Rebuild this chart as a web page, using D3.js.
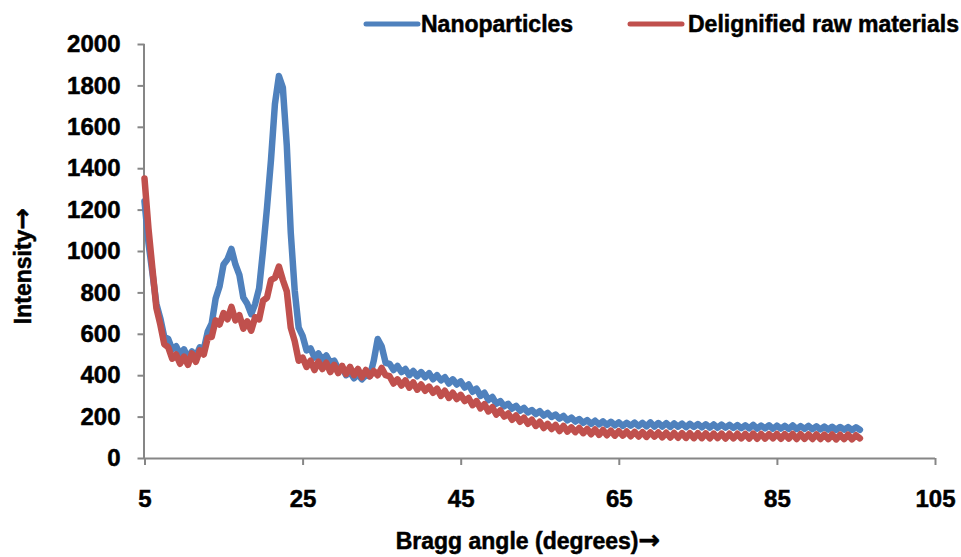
<!DOCTYPE html>
<html>
<head>
<meta charset="utf-8">
<script src="https://cdn.jsdelivr.net/npm/d3@7"></script>
<style>
  html, body { margin: 0; padding: 0; background: #fff; }
  svg { display: block; }
  text { font-family: "Liberation Sans", Arial, sans-serif; font-weight: bold; fill: #000; stroke: #000; stroke-width: 0.5px; }
</style>
</head>
<body>
<svg id="chart" width="961" height="557"></svg>
<script>
// ---- data ----
const angles = [
  5,5.5,6,6.5,7,7.5,8,8.5,9,9.5,
  10,10.5,11,11.5,12,12.5,13,13.5,14,14.5,
  15,15.5,16,16.5,17,17.5,18,18.5,19,19.5,
  20,20.5,21,21.5,22,22.5,23,23.5,24,24.5,
  25,25.5,26,26.5,27,27.5,28,28.5,29,29.5,
  30,30.5,31,31.5,32,32.5,33,33.5,34,34.5,
  35,35.5,36,36.5,37,37.5,38,38.5,39,39.5,
  40,40.5,41,41.5,42,42.5,43,43.5,44,44.5,
  45,45.5,46,46.5,47,47.5,48,48.5,49,49.5,
  50,50.5,51,51.5,52,52.5,53,53.5,54,54.5,
  55,55.5,56,56.5,57,57.5,58,58.5,59,59.5,
  60,60.5,61,61.5,62,62.5,63,63.5,64,64.5,
  65,65.5,66,66.5,67,67.5,68,68.5,69,69.5,
  70,70.5,71,71.5,72,72.5,73,73.5,74,74.5,
  75,75.5,76,76.5,77,77.5,78,78.5,79,79.5,
  80,80.5,81,81.5,82,82.5,83,83.5,84,84.5,
  85,85.5,86,86.5,87,87.5,88,88.5,89,89.5,
  90,90.5,91,91.5,92,92.5,93,93.5,94,94.5,
  95,95.5
];

const nanoparticles = [
  1240,1040,895,745,675,585,575,525,540,500,
  525,485,515,490,535,525,610,650,770,830,
  935,960,1010,935,885,775,745,695,745,820,
  1005,1210,1440,1710,1845,1790,1510,1090,810,630,
  590,520,530,485,505,475,495,460,470,430,
  435,400,415,385,405,380,400,395,470,575,
  540,460,455,425,445,415,430,400,420,395,
  415,390,410,380,400,375,390,360,380,355,
  370,340,355,320,335,300,315,280,295,262,
  275,250,262,238,252,228,242,220,232,212,
  226,205,218,198,210,190,203,182,195,176,
  188,170,183,165,180,162,177,160,175,158,
  172,155,170,156,171,154,170,153,172,152,
  169,152,168,150,167,151,166,149,165,150,
  164,148,163,147,162,146,161,147,160,145,
  159,144,158,143,160,142,157,143,158,141,
  156,142,155,141,157,140,154,141,155,139,
  153,138,152,137,151,136,150,137,149,135,
  148,136
];

const delignified = [
  1350,1110,915,725,645,550,535,480,500,455,
  490,450,505,465,520,500,580,585,665,645,
  700,670,730,665,690,625,660,615,680,670,
  760,775,860,870,925,860,805,630,565,470,
  485,440,470,425,465,430,460,415,450,410,
  445,405,440,400,430,390,425,395,420,400,
  435,400,395,360,380,350,375,340,365,330,
  355,325,345,315,335,300,325,290,315,285,
  305,275,290,255,275,240,260,225,245,210,
  230,200,215,185,205,175,195,165,185,155,
  175,145,165,140,160,130,155,128,148,125,
  145,120,140,115,138,112,135,110,132,108,
  130,108,128,105,126,104,125,102,124,103,
  123,100,122,99,121,98,120,97,120,96,
  120,96,119,95,118,96,118,94,117,95,
  117,95,116,94,118,93,116,94,115,95,
  116,93,115,94,116,92,115,93,114,92,
  114,92,113,91,114,90,112,91,113,90,
  110,95
];

const seriesNames = ["Nanoparticles", "Delignified raw materials"];
const seriesColors = ["#4F81BD", "#C0504D"];
const xTicks = [5, 25, 45, 65, 85, 105];
const yTicks = [0, 200, 400, 600, 800, 1000, 1200, 1400, 1600, 1800, 2000];
const xTitle = "Bragg angle (degrees)";
const yTitle = "Intensity";
const arrow = "\u2192";

// ---- chart ----
const svg = d3.select("#chart");
const x = d3.scaleLinear().domain([5, 105]).range([144.5, 935]);
const y = d3.scaleLinear().domain([0, 2000]).range([458, 44]);

const axisColor = "#868686";

// y axis
const gy = svg.append("g").attr("transform", `translate(${x(5)},0)`)
  .call(d3.axisLeft(y).tickValues(yTicks).tickSize(7).tickPadding(17).tickFormat(d3.format("d")));
// x axis
const gx = svg.append("g").attr("transform", `translate(0,${y(0)})`)
  .call(d3.axisBottom(x).tickValues(xTicks).tickSize(7).tickPadding(25).tickFormat(d3.format("d")));

[gx, gy].forEach(g => {
  g.select(".domain").attr("stroke", axisColor).attr("stroke-width", 2);
  g.selectAll(".tick line").attr("stroke", axisColor).attr("stroke-width", 2);
  g.selectAll(".tick text").attr("font-size", 24).attr("fill", "#000")
    .style("font-family", '"Liberation Sans", Arial, sans-serif').style("font-weight", "bold");
});
gx.select(".domain").attr("d", `M${x(5)},0.5H${x(105)}`);
gy.select(".domain").attr("d", `M-0.5,${y(0)}V${y(2000)}`);

// lines
const line = d3.line().x(d => x(d[0])).y(d => y(d[1]));
const data = [nanoparticles, delignified].map(vals => angles.map((a, i) => [a, vals[i]]));
data.forEach((d, i) => {
  svg.append("path").datum(d)
    .attr("fill", "none")
    .attr("stroke", seriesColors[i])
    .attr("stroke-width", 6.5)
    .attr("stroke-linejoin", "round")
    .attr("stroke-linecap", "round")
    .attr("d", line);
});

// legend
const legendPos = [{ lx: 366, tx: 421 }, { lx: 630, tx: 688 }];
seriesNames.forEach((name, i) => {
  const p = legendPos[i];
  svg.append("line")
    .attr("x1", p.lx).attr("x2", p.lx + 52).attr("y1", 24).attr("y2", 24)
    .attr("stroke", seriesColors[i]).attr("stroke-width", 5).attr("stroke-linecap", "round");
  svg.append("text").attr("x", p.tx).attr("y", 24).attr("dy", "0.35em")
    .attr("font-size", 23).text(name);
});

// axis titles
function title(sel, label) {
  sel.append("tspan").text(label);
  sel.append("tspan").style("font-family", '"DejaVu Sans", sans-serif').attr("font-size", 26).text(arrow);
}
svg.append("text").attr("x", 528).attr("y", 549)
  .attr("text-anchor", "middle").attr("font-size", 23).call(title, xTitle);
svg.append("text").attr("transform", "translate(31,266) rotate(-90)")
  .attr("text-anchor", "middle").attr("font-size", 23).call(title, yTitle);
</script>
</body>
</html>
